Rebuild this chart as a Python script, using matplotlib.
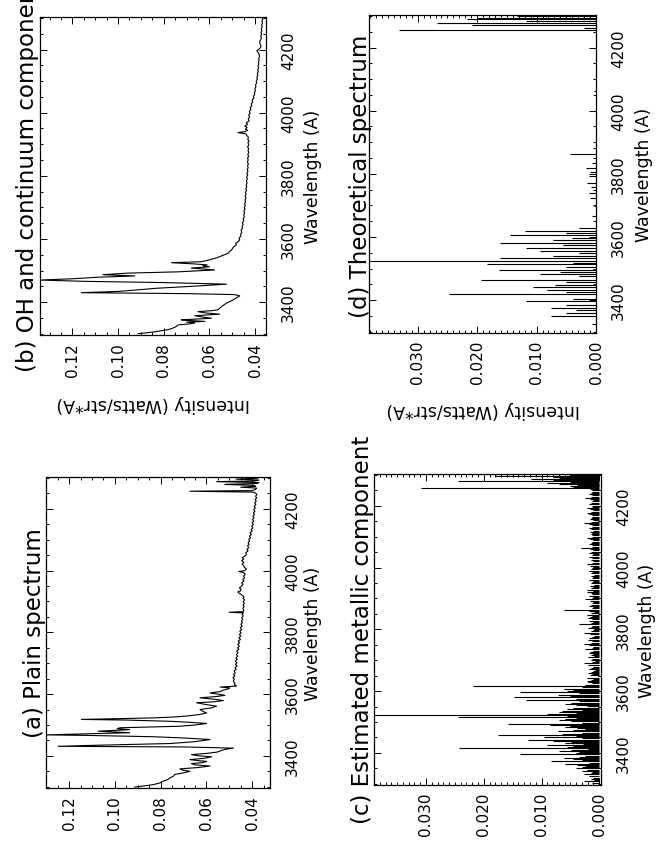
import matplotlib
matplotlib.use("Agg")
import matplotlib.pyplot as plt
from matplotlib.ticker import MultipleLocator

# ── data (wavelength in A, intensity in Watts/str*A) ──

PLAIN_WL = [3299, 3303, 3307, 3312, 3318, 3323, 3329, 3334, 3340, 3345, 3350, 3354,
            3358, 3362, 3367, 3371, 3375, 3378, 3382, 3385, 3388, 3392, 3397, 3400,
            3404, 3408, 3412, 3417, 3421, 3425, 3429, 3431, 3435, 3440, 3446, 3453,
            3458, 3462, 3466, 3468, 3471, 3475, 3480, 3485, 3488, 3491, 3496, 3500,
            3505, 3509, 3512, 3516, 3518, 3521, 3523, 3526, 3529, 3534, 3539, 3544,
            3550, 3555, 3561, 3566, 3572, 3575, 3579, 3583, 3588, 3592, 3596, 3600,
            3604, 3608, 3613, 3617, 3620, 3623, 3626, 3631, 3636, 3642, 3648, 3653,
            3659, 3664, 3669, 3675, 3680, 3685, 3691, 3696, 3701, 3707, 3712, 3717,
            3723, 3728, 3734, 3739, 3745, 3750, 3755, 3761, 3766, 3771, 3777, 3782,
            3788, 3793, 3798, 3804, 3809, 3815, 3820, 3826, 3831, 3836, 3842, 3847,
            3853, 3858, 3863, 3865, 3867, 3872, 3878, 3883, 3888, 3894, 3899, 3905,
            3910, 3915, 3921, 3926, 3931, 3934, 3939, 3944, 3949, 3955, 3960, 3966,
            3971, 3977, 3982, 3988, 3993, 3997, 4000, 4005, 4010, 4016, 4021, 4026,
            4032, 4037, 4042, 4048, 4053, 4058, 4064, 4069, 4074, 4080, 4085, 4090,
            4096, 4101, 4106, 4112, 4117, 4122, 4128, 4133, 4138, 4144, 4149, 4155,
            4160, 4165, 4171, 4176, 4181, 4187, 4192, 4198, 4203, 4208, 4214, 4219,
            4225, 4230, 4235, 4241, 4246, 4250, 4254, 4257, 4259, 4263, 4267, 4270,
            4273, 4276, 4279, 4282, 4285, 4288, 4290, 4293, 4296, 4299, 4302]
PLAIN_I = [.0913, .0870, .0832, .0805, .0789, .0770, .0759, .0745, .0737, .0700, .0672, .0705,
           .0716, .0640, .0584, .0650, .0665, .0620, .0599, .0640, .0672, .0610, .0577, .0630,
           .0665, .0600, .0555, .0535, .0519, .0482, .0701, .1248, .1050, .0759, .0650, .0584,
           .0700, .0832, .1100, .1302, .1150, .0935, .1073, .0935, .0990, .0978, .0716, .0650,
           .0599, .0680, .0759, .0950, .1146, .0950, .0832, .0740, .0687, .0630, .0599, .0615,
           .0628, .0580, .0555, .0600, .0643, .0570, .0526, .0560, .0628, .0560, .0519, .0550,
           .0584, .0540, .0526, .0505, .0497, .0540, .0468, .0478, .0475, .0483, .0478, .0484,
           .0476, .0481, .0474, .0479, .0470, .0475, .0466, .0473, .0467, .0474, .0465, .0471,
           .0463, .0469, .0462, .0468, .0458, .0464, .0456, .0463, .0455, .0461, .0451, .0458,
           .0450, .0456, .0448, .0454, .0446, .0452, .0444, .0449, .0443, .0447, .0441, .0446,
           .0439, .0444, .0438, .0500, .0440, .0436, .0441, .0435, .0440, .0434, .0439, .0433,
           .0440, .0436, .0445, .0455, .0463, .0452, .0448, .0456, .0447, .0440, .0446, .0436,
           .0441, .0433, .0438, .0430, .0436, .0458, .0432, .0425, .0433, .0438, .0444, .0436,
           .0446, .0437, .0444, .0430, .0425, .0428, .0418, .0423, .0415, .0420, .0413, .0418,
           .0411, .0415, .0407, .0412, .0403, .0409, .0400, .0405, .0397, .0402, .0395, .0400,
           .0393, .0398, .0392, .0397, .0390, .0395, .0388, .0393, .0386, .0391, .0384, .0389,
           .0382, .0387, .0380, .0385, .0379, .0384, .0395, .0672, .0400, .0385, .0380, .0450,
           .0385, .0395, .0520, .0380, .0370, .0555, .0390, .0370, .0470, .0375, .0440]

OH_WL = [3300, 3306, 3313, 3318, 3323, 3328, 3331, 3334, 3337, 3339, 3342, 3344,
         3347, 3349, 3353, 3357, 3360, 3362, 3366, 3370, 3373, 3376, 3381, 3386,
         3392, 3397, 3402, 3407, 3414, 3420, 3424, 3427, 3430, 3434, 3439, 3444,
         3450, 3457, 3462, 3466, 3470, 3474, 3479, 3483, 3487, 3492, 3496, 3502,
         3508, 3512, 3515, 3518, 3521, 3525, 3528, 3532, 3536, 3540, 3544, 3550,
         3555, 3560, 3565, 3570, 3575, 3581, 3586, 3590, 3597, 3603, 3609, 3615,
         3621, 3628, 3634, 3640, 3646, 3652, 3658, 3664, 3670, 3676, 3682, 3688,
         3694, 3700, 3706, 3712, 3718, 3724, 3730, 3736, 3742, 3748, 3754, 3760,
         3766, 3772, 3778, 3784, 3790, 3796, 3802, 3808, 3814, 3820, 3826, 3832,
         3838, 3844, 3850, 3856, 3862, 3868, 3874, 3880, 3886, 3892, 3898, 3904,
         3910, 3916, 3922, 3928, 3933, 3937, 3940, 3944, 3948, 3953, 3958, 3963,
         3968, 3974, 3980, 3986, 3992, 3998, 4004, 4010, 4016, 4022, 4028, 4034,
         4040, 4046, 4052, 4058, 4064, 4070, 4076, 4082, 4088, 4094, 4100, 4106,
         4112, 4118, 4124, 4130, 4136, 4142, 4148, 4154, 4160, 4166, 4172, 4178,
         4184, 4190, 4196, 4200, 4206, 4212, 4218, 4224, 4230, 4236, 4242, 4248,
         4254, 4260, 4266, 4272, 4278, 4284, 4290, 4296, 4302]
OH_I = [.0912, .0840, .0781, .0759, .0745, .0737, .0690, .0664, .0700, .0620, .0690, .0723,
        .0640, .0591, .0630, .0664, .0600, .0555, .0620, .0650, .0590, .0562, .0555, .0547,
        .0535, .0525, .0510, .0496, .0480, .0467, .0490, .0700, .1161, .1000, .0912, .0832,
        .0680, .0525, .0800, .1150, .1343, .1200, .1088, .0927, .1066, .0956, .0737, .0577,
        .0679, .0600, .0628, .0610, .0664, .0766, .0635, .0610, .0591, .0570, .0555, .0535,
        .0518, .0512, .0503, .0499, .0494, .0482, .0485, .0476, .0467, .0470, .0462, .0463,
        .0458, .0461, .0455, .0457, .0452, .0455, .0449, .0452, .0447, .0450, .0446, .0449,
        .0444, .0447, .0443, .0446, .0441, .0444, .0440, .0443, .0439, .0442, .0437, .0441,
        .0436, .0439, .0435, .0438, .0433, .0437, .0432, .0436, .0431, .0434, .0430, .0433,
        .0429, .0434, .0430, .0433, .0428, .0432, .0427, .0431, .0428, .0433, .0427, .0431,
        .0426, .0432, .0429, .0436, .0440, .0475, .0445, .0432, .0442, .0435, .0445, .0433,
        .0438, .0426, .0430, .0424, .0428, .0422, .0425, .0418, .0421, .0414, .0417, .0410,
        .0413, .0405, .0407, .0401, .0403, .0398, .0401, .0396, .0398, .0393, .0395, .0390,
        .0392, .0388, .0390, .0386, .0388, .0384, .0387, .0383, .0386, .0382, .0384, .0380,
        .0382, .0386, .0392, .0385, .0376, .0374, .0378, .0380, .0376, .0372, .0375, .0371,
        .0374, .0370, .0373, .0368, .0371, .0367, .0370, .0366, .0369]

# emission lines of the estimated metallic component (c)
METAL_WL = [3303, 3308, 3311, 3314, 3317, 3320, 3325, 3330, 3334, 3338, 3342, 3346,
            3350, 3354, 3358, 3362, 3365, 3368, 3373, 3378, 3381, 3384, 3387, 3390,
            3395, 3399, 3402, 3405, 3408, 3412, 3416, 3419, 3422, 3426, 3429, 3433,
            3436, 3440, 3443, 3447, 3451, 3455, 3459, 3462, 3465, 3470, 3473, 3476,
            3481, 3484, 3486, 3489, 3492, 3495, 3498, 3503, 3506, 3509, 3512, 3516,
            3519, 3522, 3525, 3528, 3531, 3535, 3540, 3543, 3546, 3551, 3554, 3557,
            3562, 3567, 3571, 3576, 3580, 3585, 3589, 3593, 3597, 3600, 3603, 3608,
            3613, 3618, 3621, 3625, 3628, 3632, 3636, 3640, 3644, 3648, 3652, 3655,
            3659, 3662, 3665, 3668, 3672, 3675, 3679, 3683, 3686, 3690, 3694, 3697,
            3701, 3705, 3709, 3713, 3716, 3720, 3724, 3727, 3731, 3735, 3739, 3744,
            3748, 3753, 3757, 3762, 3767, 3772, 3776, 3780, 3785, 3789, 3794, 3798,
            3803, 3807, 3811, 3816, 3820, 3824, 3828, 3832, 3836, 3840, 3844, 3848,
            3852, 3856, 3860, 3864, 3868, 3872, 3876, 3880, 3884, 3888, 3892, 3897,
            3901, 3905, 3909, 3913, 3917, 3921, 3925, 3929, 3933, 3937, 3941, 3945,
            3949, 3953, 3957, 3961, 3965, 3969, 3973, 3977, 3981, 3985, 3990, 3994,
            3998, 4002, 4006, 4010, 4015, 4020, 4025, 4031, 4035, 4040, 4044, 4048,
            4052, 4056, 4060, 4064, 4068, 4072, 4076, 4080, 4084, 4088, 4092, 4096,
            4100, 4104, 4108, 4112, 4116, 4120, 4125, 4129, 4133, 4137, 4141, 4145,
            4149, 4153, 4157, 4161, 4165, 4169, 4173, 4177, 4181, 4185, 4189, 4193,
            4197, 4201, 4205, 4210, 4214, 4218, 4222, 4226, 4230, 4234, 4238, 4242,
            4246, 4250, 4254, 4258, 4261, 4264, 4267, 4269, 4272, 4275, 4278, 4280,
            4282, 4284, 4286, 4288, 4290, 4292, 4294, 4296, 4298, 4300, 4302]
METAL_I = [.0012, .0026, .0009, .0015, .0011, .0010, .0018, .0026, .0014, .0012, .0030, .0021,
           .0040, .0030, .0025, .0038, .0060, .0018, .0084, .0030, .0045, .0061, .0035, .0025,
           .0138, .0040, .0035, .0070, .0049, .0020, .0242, .0055, .0045, .0090, .0028, .0060,
           .0049, .0080, .0124, .0030, .0095, .0040, .0176, .0065, .0030, .0072, .0045, .0025,
           .0038, .0060, .0050, .0085, .0158, .0040, .0030, .0049, .0070, .0060, .0040, .0245,
           .0055, .0450, .0090, .0040, .0070, .0065, .0030, .0055, .0045, .0021, .0040, .0060,
           .0049, .0035, .0127, .0040, .0147, .0050, .0072, .0035, .0138, .0055, .0045, .0061,
           .0030, .0219, .0025, .0012, .0020, .0021, .0014, .0010, .0022, .0003, .0016, .0012,
           .0020, .0015, .0010, .0008, .0018, .0015, .0011, .0010, .0019, .0026, .0012, .0008,
           .0015, .0012, .0020, .0009, .0014, .0011, .0017, .0016, .0011, .0024, .0013, .0010,
           .0018, .0026, .0014, .0012, .0020, .0018, .0012, .0009, .0016, .0026, .0014, .0011,
           .0019, .0015, .0012, .0035, .0014, .0010, .0017, .0012, .0019, .0016, .0013, .0021,
           .0015, .0009, .0018, .0061, .0013, .0011, .0018, .0015, .0012, .0010, .0016, .0024,
           .0013, .0011, .0017, .0012, .0014, .0021, .0011, .0021, .0015, .0010, .0016, .0009,
           .0014, .0013, .0011, .0018, .0013, .0010, .0015, .0009, .0014, .0012, .0017, .0015,
           .0012, .0011, .0016, .0021, .0013, .0010, .0015, .0012, .0017, .0013, .0011, .0018,
           .0014, .0011, .0016, .0032, .0013, .0012, .0017, .0015, .0012, .0010, .0016, .0021,
           .0013, .0013, .0015, .0012, .0016, .0011, .0014, .0018, .0013, .0012, .0017, .0026,
           .0014, .0011, .0016, .0015, .0012, .0013, .0018, .0021, .0014, .0010, .0016, .0021,
           .0013, .0012, .0017, .0015, .0013, .0011, .0016, .0024, .0014, .0012, .0017, .0015,
           .0013, .0012, .0016, .0308, .0045, .0050, .0030, .0038, .0070, .0090, .0050, .0245,
           .0060, .0080, .0055, .0118, .0070, .0080, .0060, .0181, .0055, .0050, .0072]

# lines of the theoretical spectrum (d)
THEO_WL = [3323, 3349, 3360, 3370, 3375, 3386, 3397, 3405, 3418, 3426, 3432, 3441,
           3449, 3458, 3465, 3476, 3483, 3490, 3497, 3504, 3513, 3519, 3525, 3532,
           3539, 3550, 3557, 3565, 3574, 3581, 3589, 3597, 3606, 3613, 3620, 3629,
           3666, 3698, 3724, 3740, 3758, 3772, 3793, 3806, 3819, 3835, 3864, 3882,
           3999, 4062, 4254, 4263, 4270, 4277, 4284, 4289, 4294, 4300]
THEO_I = [.0007, .0075, .0050, .0033, .0075, .0050, .0117, .0039, .0247, .0050, .0083, .0106,
          .0069, .0050, .0194, .0028, .0094, .0061, .0164, .0050, .0183, .0039, .0450, .0161,
          .0072, .0028, .0094, .0117, .0056, .0161, .0072, .0040, .0144, .0050, .0119, .0028,
          .0006, .0004, .0010, .0012, .0008, .0015, .0012, .0010, .0016, .0006, .0043, .0005,
          .0003, .0003, .0331, .0020, .0208, .0267, .0117, .0217, .0200, .0133]

WL_TICKS = [3400, 3600, 3800, 4000, 4200]
HI_TICKS = [0.04, 0.06, 0.08, 0.10, 0.12]
LO_TICKS = [0.000, 0.010, 0.020, 0.030]
WL_RANGE = (3296, 4303)

# ── layout (pixels of the 662 x 845 page) ───────────────────────────────────

W, H = 662, 845
LW = 0.8


def box(x0, y0, x1, y1):
    """axes rectangle from pixel corners (top-left origin)."""
    return [x0 / W, 1 - y1 / H, (x1 - x0) / W, (y1 - y0) / H]


def ftext(fig, x, y, s, **kw):
    fig.text(x / W, 1 - y / H, s, ha="center", va="center", **kw)


def style_ax(ax, xlim, ticks, fmt, minor):
    ax.set_xlim(*xlim)
    ax.set_ylim(*WL_RANGE)
    ax.set_xticks(ticks, [fmt.format(t) for t in ticks], rotation=90,
                  fontsize=11)
    ax.set_yticks(WL_TICKS, [str(t) for t in WL_TICKS], rotation=90,
                  va="center", fontsize=11)
    ax.xaxis.set_minor_locator(MultipleLocator(minor))
    ax.yaxis.set_minor_locator(MultipleLocator(50))
    ax.tick_params(which="both", direction="in", top=True, bottom=True,
                   left=True, right=True, labelleft=False, labelright=True,
                   width=0.7)
    ax.tick_params(which="major", length=5)
    ax.tick_params(which="minor", length=2.5)
    ax.tick_params(axis="x", pad=5)
    ax.tick_params(axis="y", pad=11)
    for sp in ax.spines.values():
        sp.set_linewidth(0.9)


fig = plt.figure(figsize=(W / 100, H / 100), dpi=100)

# (b) OH and continuum
ax_b = fig.add_axes(box(40, 18, 266, 336))
ax_b.plot(OH_I, OH_WL, color="black", lw=LW)
style_ax(ax_b, (0.1342, 0.0352), HI_TICKS, "{:.2f}", 0.005)

# (d) theoretical
ax_d = fig.add_axes(box(369, 16, 596, 334))
ax_d.hlines(THEO_WL, 0, THEO_I, color="black", lw=LW)
style_ax(ax_d, (0.0382, 0.0), LO_TICKS, "{:.3f}", 0.001)

# (a) plain spectrum
ax_a = fig.add_axes(box(46, 478, 270, 789))
ax_a.plot(PLAIN_I, PLAIN_WL, color="black", lw=LW)
style_ax(ax_a, (0.1301, 0.0322), HI_TICKS, "{:.2f}", 0.005)

# (c) metallic component
ax_c = fig.add_axes(box(374, 475, 601, 786))
ax_c.hlines(METAL_WL, 0, METAL_I, color="black", lw=LW)
style_ax(ax_c, (0.0390, -0.0003), LO_TICKS, "{:.3f}", 0.001)

# titles, read bottom-to-top (the long one runs off the page, as in the scan)
ftext(fig, 28, 176, "(b) OH and continuum component", rotation=90, fontsize=16.5)
ftext(fig, 360, 176, "(d) Theoretical spectrum", rotation=90, fontsize=16.5)
ftext(fig, 35, 633, "(a) Plain spectrum", rotation=90, fontsize=16.5)
ftext(fig, 362, 630, "(c) Estimated metallic component", rotation=90, fontsize=16.5)

# axis labels
for x, y in [(313, 177), (644, 175), (313, 634), (647, 631)]:
    ftext(fig, x, y, "Wavelength (A)", rotation=90, fontsize=12.5)
ftext(fig, 153, 404, "Intensity (Watts/str*A)", rotation=180, fontsize=12.5)
ftext(fig, 483, 410, "Intensity (Watts/str*A)", rotation=180, fontsize=12.5)

fig.savefig("out.png", dpi=100)
